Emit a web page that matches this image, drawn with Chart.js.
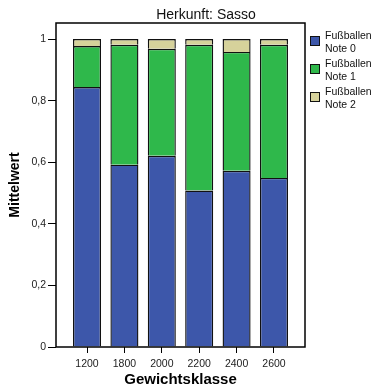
<!DOCTYPE html>
<html>
<head>
<meta charset="utf-8">
<script src="https://cdn.jsdelivr.net/npm/chart.js@4/dist/chart.umd.min.js"></script>
<style>
  html, body { margin: 0; padding: 0; background: #fff; }
  #wrap { position: relative; width: 380px; height: 389px; }
  #legend { position: absolute; left: 310px; top: 29px; font-family: "Liberation Sans", Arial, sans-serif; font-size: 10.5px; color: #111; }
  .item { position: relative; height: 28px; padding-left: 15px; line-height: 13px; }
  .box { position: absolute; left: 0; top: 7px; width: 8px; height: 8px; border: 1px solid #111; }
</style>
</head>
<body>
<div id="wrap">
  <canvas id="chart" width="380" height="389"></canvas>
  <div id="legend"></div>
</div>
<script>
// values (share per weight class)
const categories = ['1200', '1800', '2000', '2200', '2400', '2600'];
const note0 = [0.844, 0.592, 0.621, 0.508, 0.572, 0.549];
const note1 = [0.133, 0.389, 0.347, 0.473, 0.386, 0.432];
const note2 = [0.023, 0.019, 0.032, 0.019, 0.042, 0.019];
const seriesNames = ['Fußballen\nNote 0', 'Fußballen\nNote 1', 'Fußballen\nNote 2'];
const yTicks = [0, 0.2, 0.4, 0.6, 0.8, 1];

const colors = ['#3d57aa', '#2fb84b', '#d6d29b'];
const FONT = '"Liberation Sans", Arial, sans-serif';

function toPoints(arr) {
    return arr.map((v, i) => ({ x: i, y: v }));
}

const frame = {
    id: 'frame',
    afterDraw(chart) {
        const a = chart.chartArea;
        const ctx = chart.ctx;
        ctx.save();
        ctx.strokeStyle = '#000';
        ctx.lineWidth = 1.5;
        ctx.strokeRect(a.left, a.top, a.right - a.left, a.bottom - a.top);
        ctx.fillStyle = '#111';
        ctx.font = '14px ' + FONT;
        ctx.textAlign = 'center';
        ctx.textBaseline = 'middle';
        ctx.fillText('Herkunft: Sasso', 206, 15);
        ctx.restore();
    }
};

const ctx = document.getElementById('chart').getContext('2d');
new Chart(ctx, {
    type: 'bar',
    data: {
        datasets: [note0, note1, note2].map((d, i) => ({
            label: seriesNames[i],
            data: toPoints(d),
            backgroundColor: colors[i],
            borderColor: '#111',
            borderWidth: 1.4,
            categoryPercentage: 0.75,
            barPercentage: 1
        }))
    },
    options: {
        responsive: false,
        animation: false,
        layout: { padding: { top: 23, right: 75, left: 0, bottom: 0 } },
        plugins: { legend: { display: false }, tooltip: { enabled: false } },
        scales: {
            x: {
                type: 'linear',
                stacked: true,
                offset: false,
                min: -0.83,
                max: 5.83,
                afterBuildTicks: s => { s.ticks = categories.map((c, i) => ({ value: i })); },
                afterFit: s => { s.height = 42; },
                grid: { offset: false, drawOnChartArea: false, drawTicks: true, tickLength: 6, color: '#000' },
                border: { display: false },
                ticks: {
                    callback: v => categories[v],
                    color: '#222',
                    font: { family: FONT, size: 10.5 },
                    padding: 5,
                    maxRotation: 0
                },
                title: {
                    display: true,
                    text: 'Gewichtsklasse',
                    color: '#000',
                    font: { family: FONT, size: 15, weight: 'bold' },
                    padding: { top: 0, bottom: 0 }
                }
            },
            y: {
                stacked: true,
                min: 0,
                max: 1.052,
                afterBuildTicks: s => { s.ticks = yTicks.map(v => ({ value: v })); },
                afterFit: s => { s.width = 56; },
                grid: { drawOnChartArea: false, drawTicks: true, tickLength: 8, color: '#000' },
                border: { display: false },
                ticks: {
                    callback: v => String(v).replace('.', ','),
                    color: '#222',
                    font: { family: FONT, size: 10.5 },
                    padding: 2
                },
                title: {
                    display: true,
                    text: 'Mittelwert',
                    color: '#000',
                    font: { family: FONT, size: 14, weight: 'bold' },
                    padding: { top: 7, bottom: 4 }
                }
            }
        }
    },
    plugins: [frame]
});

// legend with two-line labels
const legend = document.getElementById('legend');
seriesNames.forEach((name, i) => {
    const item = document.createElement('div');
    item.className = 'item';
    item.innerHTML = '<span class="box" style="background:' + colors[i] + '"></span>' + name.replace('\n', '<br>');
    legend.appendChild(item);
});
</script>
</body>
</html>
